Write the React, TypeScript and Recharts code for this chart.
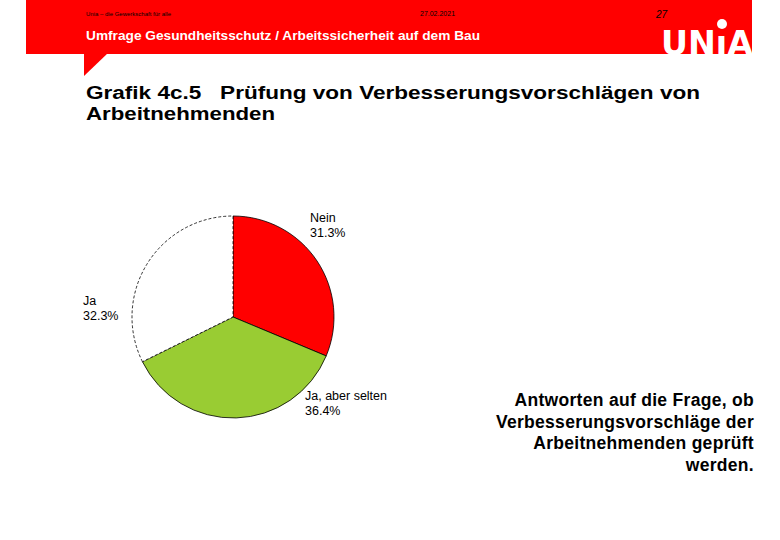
import React from 'react';
import { PieChart, Pie, Cell } from 'recharts';

const categories = ['Nein', 'Ja, aber selten', 'Ja'];
const shares = [31.3, 36.4, 32.3];
const colors = ['#FF0000', '#99CC33', '#FFFFFF'];

const data = categories.map((name, i) => ({ name, value: shares[i] }));

// label offsets relative to the pie centre (Excel-style placement)
const labelOffset: Record<string, [number, number]> = {
  Nein: [77, -95],
  'Ja, aber selten': [72, 83],
  Ja: [-150, -12],
};

const CX = 233;
const CY = 317;
const sans = "'Liberation Sans', Arial, sans-serif";

const renderLabel = (props: any) => {
  const { cx, cy, name, value } = props;
  const [dx, dy] = labelOffset[name] || [0, 0];
  const x = cx + dx;
  const y = cy + dy;
  return (
    <text x={x} y={y} fill="#000" fontSize={12.5} style={{ fontFamily: sans }}>
      <tspan x={x} dy={0}>{name}</tspan>
      <tspan x={x} dy={15}>{value.toFixed(1)}%</tspan>
    </text>
  );
};

const App: React.FC = () => {
  return (
    <div style={{ position: 'absolute', left: 0, top: 0, width: 780, height: 540, background: '#fff', overflow: 'hidden', fontFamily: sans }}>
      <svg width={780} height={540} style={{ position: 'absolute', left: 0, top: 0, fontFamily: sans }}>
        <rect x={26} y={0} width={726} height={54} fill="#FF0000" />
        <polygon points="84,53 108,53 84,76" fill="#FF0000" />
        <text x={86} y={16} fontSize={6} fill="#000">Unia – die Gewerkschaft für alle</text>
        <text x={420} y={16} fontSize={7} fill="#000">27.02.2021</text>
        <text x={656} y={18} fontSize={10} fill="#000" fontStyle="italic">27</text>
        <text x={86} y={40} fontSize={13} fontWeight="bold" fill="#fff" textLength={394} lengthAdjust="spacingAndGlyphs">
          Umfrage Gesundheitsschutz / Arbeitssicherheit auf dem Bau
        </text>
        {/* UNIA logo */}
        <text x={661} y={55} fontSize={33} fontWeight="bold" fill="#fff" textLength={92} lengthAdjust="spacingAndGlyphs" style={{ fontFamily: "'DejaVu Sans', sans-serif" }}>
          UNıA
        </text>
        <circle cx={722} cy={24} r={5} fill="#fff" />
        <text x={86} y={99} fontSize={18} fontWeight="bold" fill="#000" textLength={614} lengthAdjust="spacingAndGlyphs">
          Grafik 4c.5{'\u00a0\u00a0\u00a0'}Prüfung von Verbesserungsvorschlägen von
        </text>
        <text x={86} y={120} fontSize={18} fontWeight="bold" fill="#000" textLength={189} lengthAdjust="spacingAndGlyphs">
          Arbeitnehmenden
        </text>
        <text x={754} y={406} fontSize={17.5} fontWeight="bold" fill="#000" textAnchor="end" letterSpacing={0.3}>
          <tspan x={754} dy={0}>Antworten auf die Frage, ob</tspan>
          <tspan x={754} dy={21.5}>Verbesserungsvorschläge der</tspan>
          <tspan x={754} dy={21.5}>Arbeitnehmenden geprüft</tspan>
          <tspan x={754} dy={21.5}>werden.</tspan>
        </text>
      </svg>
      <div style={{ position: 'absolute', left: 0, top: 0 }}>
        <PieChart width={780} height={540} margin={{ top: 0, right: 0, bottom: 0, left: 0 }}>
          <Pie
            data={data}
            dataKey="value"
            nameKey="name"
            cx={CX}
            cy={CY}
            outerRadius={101}
            startAngle={90}
            endAngle={-270}
            stroke="#000"
            strokeWidth={0.8}
            label={renderLabel}
            labelLine={false}
            isAnimationActive={false}
          >
            {data.map((d, i) => (
              <Cell
                key={d.name}
                fill={colors[i]}
                strokeDasharray={d.name === 'Ja' ? '3 2' : undefined}
              />
            ))}
          </Pie>
        </PieChart>
      </div>
    </div>
  );
};

export default App;
